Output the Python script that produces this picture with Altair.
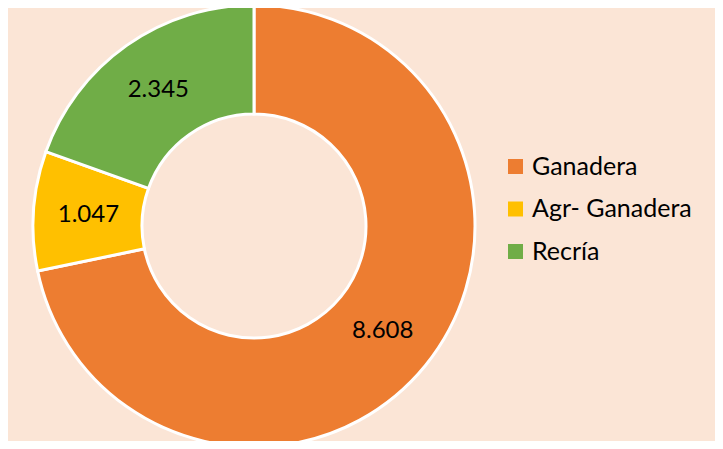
import altair as alt
import pandas as pd

categories = ["Ganadera", "Agr- Ganadera", "Recría"]
values = [8608, 1047, 2345]
colors = ["#ED7D31", "#FFC000", "#70AD47"]

df = pd.DataFrame({"cat": categories, "value": values, "order": [0, 1, 2]})

CX, CY = 246, 218

base = alt.Chart(df).transform_calculate(
    label="replace(format(datum.value, ','), ',', '.')"
).encode(
    theta=alt.Theta("value:Q", stack=True),
    order=alt.Order("order:Q"),
)

arcs = base.mark_arc(
    outerRadius=221, innerRadius=112, stroke="white", strokeWidth=3
).encode(
    x=alt.value(CX),
    y=alt.value(CY),
    color=alt.Color(
        "cat:N",
        scale=alt.Scale(domain=categories, range=colors),
        sort=categories,
        legend=alt.Legend(
            title=None,
            orient="none",
            legendX=495,
            legendY=146,
            symbolType="square",
            symbolSize=225,
            symbolStrokeWidth=0,
            labelFont="Lato",
            labelFontSize=25,
            labelColor="black",
            labelOffset=4,
            rowPadding=16.5,
            padding=0,
        ),
    ),
)

texts = base.mark_text(
    radius=166, font="Lato", fontSize=24, color="black", align="center", baseline="middle"
).encode(
    x=alt.value(CX),
    y=alt.value(CY),
    text="label:N",
)

chart = alt.layer(arcs, texts).properties(
    width=707,
    height=433,
    autosize=alt.AutoSizeParams(type="none"),
    padding=0,
    background="#FBE5D6",
).configure_view(stroke=None)

chart.save("out.html", embed_options={"renderer": "svg", "actions": False})
